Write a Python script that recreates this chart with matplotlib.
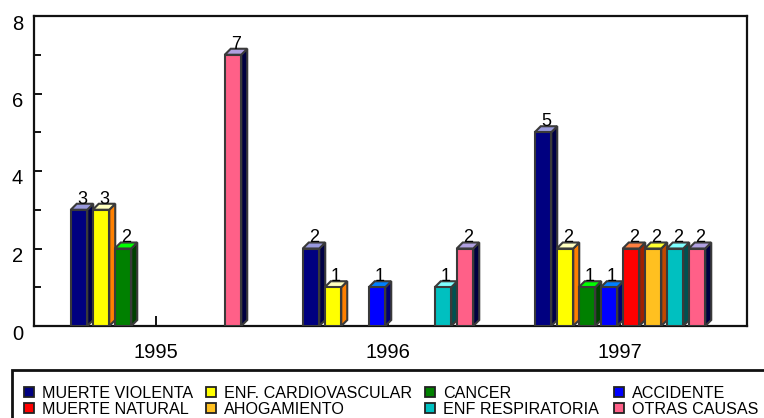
import numpy as np
import matplotlib
matplotlib.use('Agg')
import matplotlib.pyplot as plt
from matplotlib.patches import Polygon, Rectangle
from matplotlib.transforms import ScaledTranslation

plt.rcParams['font.family'] = ['Liberation Sans', 'DejaVu Sans']

# ---- data ----
years = ['1995', '1996', '1997']
series_names = ['MUERTE VIOLENTA', 'ENF. CARDIOVASCULAR', 'CANCER', 'ACCIDENTE',
                'MUERTE NATURAL', 'AHOGAMIENTO', 'ENF RESPIRATORIA', 'OTRAS CAUSAS']
muerte_violenta = [3, 2, 5]
enf_cardiovascular = [3, 1, 2]
cancer = [2, 0, 1]
accidente = [0, 1, 1]
muerte_natural = [0, 0, 2]
ahogamiento = [0, 0, 2]
enf_respiratoria = [0, 1, 2]
otras_causas = [7, 2, 2]
yticks = [0, 2, 4, 6, 8]

series_values = [muerte_violenta, enf_cardiovascular, cancer, accidente,
                 muerte_natural, ahogamiento, enf_respiratoria, otras_causas]

# ---- styles ----
front_colors = ['#000080', '#ffff00', '#008000', '#0000ff', '#ff0000', '#ffc020', '#00c0c0', '#ff6088']
side_colors = ['#000045', '#ff8000', '#004000', '#000070', '#a02000', '#c04800', '#005050', '#000040']
top_colors = ['#9999dd', '#ffffc0', '#00ff00', '#0080ff', '#ff8040', '#ffff30', '#80ffff', '#b0a0e0']
edge = '#3a3a3a'

W, H = 764, 418
fig = plt.figure(figsize=(W / 100, H / 100), dpi=100)
L, R, B, T = 34, 747, 326, 16
ax = fig.add_axes([L / W, 1 - B / H, (R - L) / W, (B - T) / H])

px_per_unit = 232.0
xmin = (L - 156) / px_per_unit
xmax = (R - 156) / px_per_unit
ax.set_xlim(xmin, xmax)
ax.set_ylim(0, 8)

slot = 22 / px_per_unit
bw = 16.5 / px_per_unit
depth_px = 6
ddx = depth_px / px_per_unit
ddy = depth_px / ((B - T) / 8.0)

x = np.arange(len(years))
n = len(series_values)
for i, vals in enumerate(series_values):
    xs = x + (i - (n - 1) / 2) * slot
    vals = np.array(vals, dtype=float)
    mask = vals > 0
    ax.bar(xs[mask], vals[mask], width=bw, color=front_colors[i], edgecolor=edge,
           linewidth=1.5, zorder=3)
    for xc, v in zip(xs[mask], vals[mask]):
        x0, x1 = xc - bw / 2, xc + bw / 2
        side = Polygon([(x1, 0), (x1 + ddx, ddy), (x1 + ddx, v + ddy), (x1, v)],
                       closed=True, facecolor=side_colors[i], edgecolor=edge,
                       linewidth=1.5, zorder=2.9)
        topf = Polygon([(x0, v), (x0 + ddx, v + ddy), (x1 + ddx, v + ddy), (x1, v)],
                       closed=True, facecolor=top_colors[i], edgecolor=edge,
                       linewidth=1.5, zorder=2.9)
        ax.add_patch(side)
        ax.add_patch(topf)
        ax.annotate(f'{int(v)}', (xc, v), xytext=(depth_px * 0.72 / 2, depth_px * 0.72),
                    textcoords='offset points', ha='center', va='baseline',
                    fontsize=13, color='black', zorder=4)

# axes styling
for s in ax.spines.values():
    s.set_linewidth(1.6)
    s.set_color('#111111')
ax.set_axisbelow(True)
ax.set_yticks(yticks)
ax.set_yticks([1, 3, 5, 7], minor=True)
ax.set_xticks(x)
ax.set_xticklabels(years)
ax.tick_params(axis='y', which='major', direction='in', length=6, width=1.3,
               labelsize=14.5, pad=8, right=False)
ax.tick_params(axis='y', which='minor', direction='in', length=5, width=1.3, right=False)
ax.tick_params(axis='x', which='major', direction='in', length=7, width=1.3,
               labelsize=14.5, pad=12, top=False)
off = ScaledTranslation(0, -6 / 100, fig.dpi_scale_trans)
for lab in ax.get_yticklabels():
    lab.set_transform(lab.get_transform() + off)

# legend (manual layout)
fig.add_artist(Rectangle((12 / W, 1 - 430 / H), (780 - 12) / W, (430 - 370) / H,
                         transform=fig.transFigure, facecolor='none', edgecolor='#111111',
                         linewidth=2, clip_on=False))
col_x = [24, 206, 425, 614]
row_y = [392, 408]
ms = 10
for i, name in enumerate(series_names):
    c, r = i % 4, i // 4
    mx, my = col_x[c], row_y[r]
    fig.add_artist(Rectangle((mx / W, 1 - (my + ms / 2) / H), ms / W, ms / H,
                             transform=fig.transFigure, facecolor=front_colors[i],
                             edgecolor='#222222', linewidth=1.3))
    fig.text((mx + ms + 8) / W, 1 - my / H, name, fontsize=11.6, ha='left',
             va='center_baseline')

fig.savefig('out.png', dpi=100)
